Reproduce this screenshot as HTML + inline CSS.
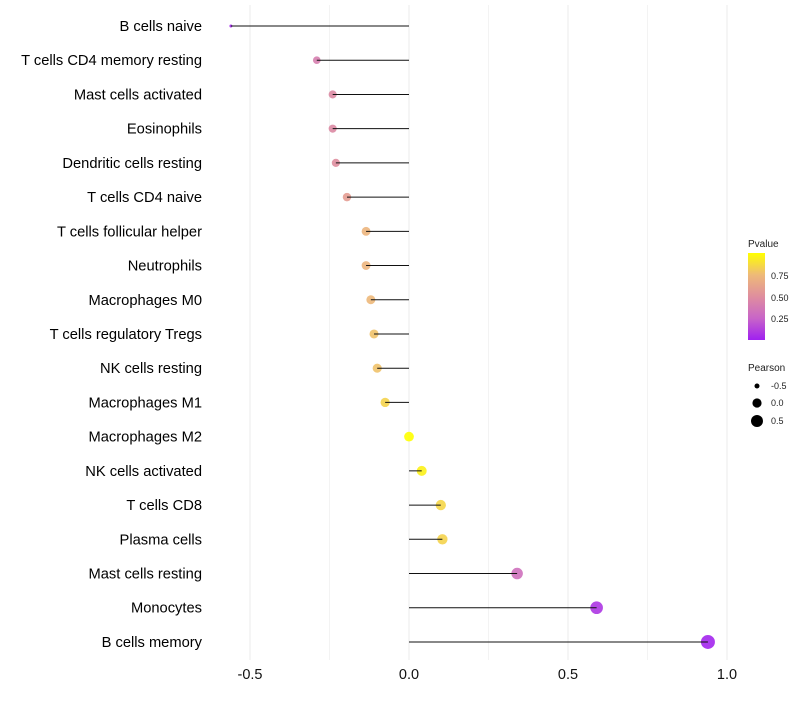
<!DOCTYPE html>
<html><head><meta charset="utf-8"><style>
body{margin:0;background:#fff;font-family:"Liberation Sans",sans-serif}
</style></head><body>
<svg id="c" width="800" height="700" xmlns="http://www.w3.org/2000/svg">
<defs><linearGradient id="g" x1="0" y1="1" x2="0" y2="0">
<stop offset="0" stop-color="#A020F0"/><stop offset="0.25" stop-color="#C865C8"/><stop offset="0.5" stop-color="#DF8E9E"/><stop offset="0.75" stop-color="#EEBA78"/><stop offset="1" stop-color="#FFFF00"/></linearGradient></defs>
<g id="grid"></g><g id="marks"></g><g id="labels"></g>
<g font-size="9" fill="#222">
<text x="748" y="247" font-size="10">Pvalue</text>
<rect x="748" y="253" width="17" height="87" fill="url(#g)"/>
<text x="771" y="279">0.75</text><text x="771" y="301">0.50</text><text x="771" y="322">0.25</text>
<text x="748" y="371" font-size="10">Pearson</text>
<circle cx="757" cy="386" r="2.5" fill="#000"/><text x="771" y="389">-0.5</text>
<circle cx="757" cy="403" r="4.6" fill="#000"/><text x="771" y="406">0.0</text>
<circle cx="757" cy="421" r="6" fill="#000"/><text x="771" y="424">0.5</text>
</g>
</svg>
<script>
const cats=["B cells naive","T cells CD4 memory resting","Mast cells activated","Eosinophils","Dendritic cells resting","T cells CD4 naive","T cells follicular helper","Neutrophils","Macrophages M0","T cells regulatory  Tregs","NK cells resting","Macrophages M1","Macrophages M2","NK cells activated","T cells CD8","Plasma cells","Mast cells resting","Monocytes","B cells memory"];
const pearson=[-0.56,-0.29,-0.24,-0.24,-0.23,-0.195,-0.135,-0.135,-0.12,-0.11,-0.10,-0.075,0.0,0.04,0.1,0.105,0.34,0.59,0.94];
const pvals=[0.02,0.4,0.47,0.47,0.5,0.58,0.72,0.72,0.74,0.78,0.78,0.84,1.0,0.95,0.85,0.84,0.32,0.08,0.02];
const ticks=[-0.5,0,0.5,1];
const tickLabels=["-0.5","0.0","0.5","1.0"];
const X=v=>409+v*318, Y=i=>26+i*34.22;
const ns="http://www.w3.org/2000/svg";
function mk(t,a,p){const e=document.createElementNS(ns,t);for(const k in a)e.setAttribute(k,a[k]);p.appendChild(e);return e;}
const stops=[[0,[160,32,240]],[0.25,[200,101,200]],[0.5,[223,142,158]],[0.75,[238,186,120]],[1,[255,255,0]]];
function col(p){for(let i=1;i<stops.length;i++){if(p<=stops[i][0]){const [a,c0]=stops[i-1],[b,c1]=stops[i];const t=(p-a)/(b-a);return `rgb(${c0.map((v,k)=>Math.round(v+(c1[k]-v)*t))})`;}}return 'rgb(255,255,0)';}
const grid=document.getElementById('grid'),marks=document.getElementById('marks'),labels=document.getElementById('labels');
for(let v=-0.5;v<=1.001;v+=0.25){const l=mk('line',{x1:X(v),x2:X(v),y1:5,y2:660,stroke:'#ebebeb','stroke-width':Math.abs(v*2-Math.round(v*2))<1e-6?1:0.6},grid);

}
ticks.forEach((t,i)=>{const e=mk('text',{x:X(t),y:679,'text-anchor':'middle','font-size':14.5,fill:'#111'},labels);e.textContent=tickLabels[i];

});
cats.forEach((c,i)=>{const y=Y(i);
const t=mk('text',{x:202,y:y+5,'text-anchor':'end','font-size':14.7,fill:'#000'},labels);t.textContent=c;


const r=1.5+5.5*Math.sqrt(Math.max(0,(pearson[i]+0.56)/1.5));
const ci=mk('circle',{cx:X(pearson[i]),cy:y,r:r,fill:col(pvals[i]),'fill-opacity':0.9},marks);


const ln=mk('line',{x1:X(0),x2:X(pearson[i]),y1:y,y2:y,stroke:'#111','stroke-width':1},marks);

});
</script>
</body></html>
